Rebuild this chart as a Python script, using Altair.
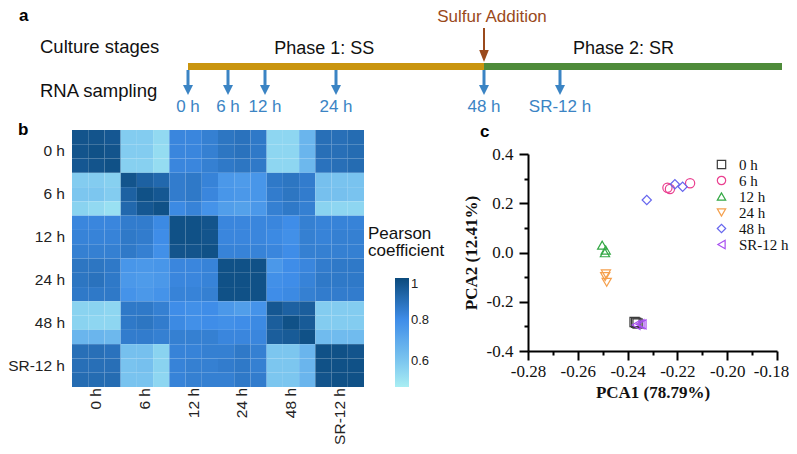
import altair as alt
import pandas as pd

# ---------------- data ----------------
groups = ["0 h", "6 h", "12 h", "24 h", "48 h", "SR-12 h"]

# panel a: timeline (hours) and its schematic placement
sample_hours = [0, 6, 12, 24, 48, 60]
timeline_hours = [0, 6, 12, 24, 48, 60, 95]
timeline_range = [180, 220, 257, 328, 476, 552, 774]
phase_names = ["Phase 1: SS", "Phase 2: SR"]
phase_start = [0, 48]
phase_end = [48, 95]
phase_label_hour = [22, 70]
phase_colors = ["#c9950f", "#4e8b3a"]
sulfur_hour = [48]

# panel b: Pearson correlation, 6 stages x 3 replicates
corr = [
    [0.97, 0.97, 0.96, 0.58, 0.58, 0.54, 0.82, 0.82, 0.84, 0.87, 0.88, 0.86, 0.55, 0.55, 0.66, 0.89, 0.89, 0.90],
    [0.97, 0.98, 0.97, 0.58, 0.58, 0.53, 0.82, 0.82, 0.84, 0.87, 0.88, 0.86, 0.55, 0.55, 0.66, 0.89, 0.89, 0.90],
    [0.96, 0.97, 0.98, 0.57, 0.57, 0.53, 0.82, 0.82, 0.84, 0.86, 0.87, 0.86, 0.55, 0.55, 0.65, 0.88, 0.89, 0.90],
    [0.58, 0.58, 0.57, 0.97, 0.93, 0.91, 0.85, 0.86, 0.83, 0.76, 0.75, 0.77, 0.86, 0.87, 0.85, 0.62, 0.61, 0.61],
    [0.60, 0.60, 0.58, 0.93, 0.98, 0.96, 0.85, 0.86, 0.82, 0.77, 0.76, 0.77, 0.85, 0.87, 0.85, 0.62, 0.62, 0.61],
    [0.56, 0.54, 0.52, 0.91, 0.96, 0.98, 0.81, 0.83, 0.78, 0.74, 0.73, 0.76, 0.84, 0.86, 0.84, 0.56, 0.55, 0.55],
    [0.82, 0.82, 0.82, 0.85, 0.85, 0.81, 0.98, 0.98, 0.97, 0.82, 0.82, 0.82, 0.82, 0.80, 0.84, 0.83, 0.83, 0.83],
    [0.83, 0.83, 0.83, 0.86, 0.85, 0.80, 0.98, 0.98, 0.97, 0.82, 0.82, 0.82, 0.81, 0.79, 0.84, 0.83, 0.84, 0.84],
    [0.84, 0.84, 0.84, 0.86, 0.84, 0.79, 0.97, 0.97, 0.98, 0.83, 0.83, 0.83, 0.82, 0.80, 0.84, 0.84, 0.84, 0.84],
    [0.87, 0.87, 0.86, 0.77, 0.76, 0.77, 0.82, 0.82, 0.83, 0.98, 0.98, 0.98, 0.76, 0.80, 0.82, 0.85, 0.86, 0.86],
    [0.87, 0.88, 0.86, 0.76, 0.75, 0.76, 0.82, 0.82, 0.83, 0.98, 0.98, 0.98, 0.79, 0.80, 0.83, 0.86, 0.86, 0.86],
    [0.86, 0.86, 0.86, 0.78, 0.76, 0.78, 0.83, 0.83, 0.84, 0.98, 0.98, 0.98, 0.80, 0.81, 0.84, 0.85, 0.85, 0.85],
    [0.56, 0.56, 0.55, 0.86, 0.86, 0.84, 0.80, 0.79, 0.80, 0.76, 0.74, 0.78, 0.96, 0.93, 0.94, 0.58, 0.58, 0.58],
    [0.56, 0.55, 0.55, 0.86, 0.87, 0.85, 0.81, 0.79, 0.80, 0.79, 0.80, 0.81, 0.94, 0.98, 0.95, 0.58, 0.58, 0.58],
    [0.66, 0.66, 0.65, 0.85, 0.85, 0.84, 0.84, 0.84, 0.84, 0.82, 0.82, 0.82, 0.94, 0.95, 0.98, 0.64, 0.64, 0.64],
    [0.89, 0.89, 0.88, 0.62, 0.62, 0.56, 0.83, 0.83, 0.84, 0.84, 0.86, 0.84, 0.60, 0.60, 0.66, 0.98, 0.98, 0.97],
    [0.89, 0.89, 0.89, 0.61, 0.62, 0.56, 0.83, 0.84, 0.84, 0.85, 0.86, 0.84, 0.60, 0.60, 0.66, 0.98, 0.98, 0.98],
    [0.90, 0.90, 0.90, 0.61, 0.61, 0.55, 0.83, 0.84, 0.84, 0.84, 0.86, 0.85, 0.60, 0.60, 0.66, 0.97, 0.98, 0.98],
]
corr_domain = [0.475, 0.6, 0.8, 1.0]
corr_colors = ["#a9eef3", "#7cc6ef", "#3f8de8", "#0b4a7c"]
legend_values = [0.6, 0.8, 1.0]

# panel c: PCA scores
pca_group = ["0 h"] * 3 + ["6 h"] * 3 + ["12 h"] * 3 + ["24 h"] * 3 + ["48 h"] * 3 + ["SR-12 h"] * 3
pca1 = [-0.2372, -0.2366, -0.2360,
        -0.2240, -0.2230, -0.2149,
        -0.2502, -0.2491, -0.2488,
        -0.2487, -0.2484, -0.2490,
        -0.2323, -0.2210, -0.2179,
        -0.2366, -0.2350, -0.2342]
pca2 = [-0.282, -0.285, -0.288,
        0.263, 0.258, 0.281,
        0.030, -0.001, 0.010,
        -0.087, -0.121, -0.098,
        0.213, 0.277, 0.267,
        -0.294, -0.291, -0.292]
pca_colors = ["#3c3c3c", "#ea3f8f", "#33a845", "#f5a04d", "#6666ee", "#a84ff0"]
pca_shapes = ["square", "circle", "triangle-up", "triangle-down", "diamond", "triangle-left"]

SANS = "Liberation Sans"
SERIF = "Liberation Serif"
BLUE = "#3b84c4"
BROWN = "#9a4a1c"

# ---------------- tables ----------------
phase_df = pd.DataFrame({"name": phase_names, "start": phase_start, "end": phase_end,
                         "lab": phase_label_hour, "color": phase_colors})
sample_df = pd.DataFrame({"label": groups, "hour": sample_hours})
sulfur_df = pd.DataFrame({"hour": sulfur_hour, "t": ["Sulfur Addition"]})

n = len(corr)
cells = []
for i in range(n):
    for j in range(n):
        cells.append({"r0": i, "r1": i + 1, "c0": j, "c1": j + 1, "v": corr[i][j]})
heat_df = pd.DataFrame(cells)
glab_df = pd.DataFrame({"g": groups, "pos": [3 * k + 1.5 for k in range(len(groups))]})

pca_df = pd.DataFrame({"group": pca_group, "pc1": pca1, "pc2": pca2})


def xa():
    return alt.Scale(domain=timeline_hours, range=timeline_range, nice=False, zero=False)


def hx():
    return alt.Scale(domain=[0, n], range=[64, 356], nice=False, zero=False)


def hy():
    return alt.Scale(domain=[0, n], range=[122, 379], nice=False, zero=False)


def one(text):
    return alt.Chart(pd.DataFrame({"t": [text]}))


# ---------------- panel a ----------------
bars = alt.Chart(phase_df).mark_rule(strokeWidth=7, strokeCap="butt").encode(
    x=alt.X("start:Q", scale=xa(), axis=None), x2="end:Q",
    y=alt.value(58.5), color=alt.Color("color:N", scale=None, legend=None))
phase_txt = alt.Chart(phase_df).mark_text(font=SANS, fontSize=18, align="center",
                                          baseline="alphabetic", color="#111").encode(
    x=alt.X("lab:Q", scale=xa(), axis=None), y=alt.value(46), text="name:N")
stage_txt = one("Culture stages").mark_text(font=SANS, fontSize=18.5, align="left",
                                            baseline="alphabetic", color="#111").encode(
    x=alt.value(32), y=alt.value(45), text="t:N")
rna_txt = one("RNA sampling").mark_text(font=SANS, fontSize=18.5, align="left",
                                        baseline="alphabetic", color="#111").encode(
    x=alt.value(32), y=alt.value(89), text="t:N")
a_txt = one("a").mark_text(font=SANS, fontSize=17, fontWeight="bold", align="left",
                           baseline="alphabetic", color="#000").encode(
    x=alt.value(11), y=alt.value(13), text="t:N")
sulfur_txt = alt.Chart(sulfur_df).mark_text(font=SANS, fontSize=17, align="center",
                                            baseline="alphabetic", color=BROWN).encode(
    x=alt.X("hour:Q", scale=xa(), axis=None), y=alt.value(14), text="t:N", xOffset=alt.value(8))
sulfur_rule = alt.Chart(sulfur_df).mark_rule(strokeWidth=2, color=BROWN).encode(
    x=alt.X("hour:Q", scale=xa(), axis=None), y=alt.value(20), y2=alt.value(45))
sulfur_head = alt.Chart(sulfur_df).mark_point(shape="M-0.8,-1L0.8,-1L0,1Z", filled=True,
                                              size=144, color=BROWN, opacity=1).encode(
    x=alt.X("hour:Q", scale=xa(), axis=None), y=alt.value(48))
samp_rule = alt.Chart(sample_df).mark_rule(strokeWidth=3, color=BLUE).encode(
    x=alt.X("hour:Q", scale=xa(), axis=None), y=alt.value(62), y2=alt.value(80))
samp_head = alt.Chart(sample_df).mark_point(shape="M-1,-1L1,-1L0,1Z", filled=True,
                                            size=100, color=BLUE, opacity=1).encode(
    x=alt.X("hour:Q", scale=xa(), axis=None), y=alt.value(82))
samp_txt = alt.Chart(sample_df).mark_text(font=SANS, fontSize=17, align="center",
                                          baseline="alphabetic", color=BLUE).encode(
    x=alt.X("hour:Q", scale=xa(), axis=None), y=alt.value(104), text="label:N")

# ---------------- panel b ----------------
heat = alt.Chart(heat_df).mark_rect().encode(
    x=alt.X("c0:Q", scale=hx(), axis=None), x2="c1:Q",
    y=alt.Y("r0:Q", scale=hy(), axis=None), y2="r1:Q",
    color=alt.Color("v:Q", scale=alt.Scale(domain=corr_domain, range=corr_colors,
                                           interpolate="rgb"),
                    legend=alt.Legend(orient="none", legendX=387, legendY=270, title=None,
                                      direction="vertical", gradientLength=109,
                                      gradientThickness=14, values=legend_values,
                                      format=".1~f", labelFont=SANS, labelFontSize=13,
                                      labelColor="#222", labelOffset=2, labelBaseline="middle",
                                      gradientStrokeWidth=0, padding=0)))
ylab = alt.Chart(glab_df).mark_text(font=SANS, fontSize=15.5, align="right",
                                    baseline="middle", color="#222").encode(
    x=alt.value(57), y=alt.Y("pos:Q", scale=hy(), axis=None), text="g:N")
xlab = alt.Chart(glab_df).mark_text(font=SANS, fontSize=15.5, align="right", angle=270,
                                    baseline="middle", color="#222").encode(
    x=alt.X("pos:Q", scale=hx(), axis=None), y=alt.value(380), text="g:N")
b_txt = one("b").mark_text(font=SANS, fontSize=17, fontWeight="bold", align="left",
                           baseline="alphabetic", color="#000").encode(
    x=alt.value(10), y=alt.value(127), text="t:N")
pear_txt = one("Pearson\ncoefficient").mark_text(font=SANS, fontSize=17, align="left",
                                                 baseline="alphabetic", lineBreak="\n",
                                                 lineHeight=17, color="#111").encode(
    x=alt.value(360), y=alt.value(231), text="t:N")

# ---------------- panel c ----------------
x_ticks = [-0.28, -0.27, -0.26, -0.25, -0.24, -0.23, -0.22, -0.21, -0.20, -0.19, -0.18]
y_ticks = [-0.4, -0.3, -0.2, -0.1, 0.0, 0.1, 0.2, 0.3, 0.4]
leg = dict(orient="none", legendX=706, legendY=149, title=None, padding=0,
           labelFont=SERIF, labelFontSize=15, labelColor="#111", symbolSize=70,
           symbolStrokeWidth=1.2, rowPadding=0, labelOffset=10)
scatter = alt.Chart(pca_df).mark_point(filled=False, size=85, strokeWidth=1.2, opacity=1).encode(
    x=alt.X("pc1:Q", title="PCA1 (78.79%)",
            scale=alt.Scale(domain=[-0.28, -0.18], range=[520, 769], nice=False, zero=False),
            axis=alt.Axis(orient="bottom", offset=-95, values=x_ticks, grid=False,
                          labelExpr="abs(round(datum.value*100))%2==0 ? (datum.value<0?'-':'') + format(abs(datum.value), '.2f') : ''",
                          tickSize={"condition": {"test": "abs(round(datum.value*100))%2==0", "value": 9}, "value": 4},
                          labelOffset={"condition": {"test": "datum.value > -0.185", "value": -6}, "value": 0},
                          tickWidth=2, tickColor="#000", domainColor="#000", domainWidth=2,
                          labelFont=SERIF, labelFontSize=17, labelColor="#111", labelPadding=3,
                          titleFont=SERIF, titleFontSize=17, titleFontWeight="bold",
                          titleColor="#111", titlePadding=5, labelFlush=False,
                          labelOverlap=False)),
    y=alt.Y("pc2:Q", title="PCA2 (12.41%)",
            scale=alt.Scale(domain=[-0.4, 0.4], range=[343, 146], nice=False, zero=False),
            axis=alt.Axis(orient="left", offset=-520, values=y_ticks, grid=False,
                          labelExpr="abs(round(datum.value*10))%2==0 ? (datum.value<0?'-':'') + format(abs(datum.value), '.1f') : ''",
                          tickSize={"condition": {"test": "abs(round(datum.value*10))%2==0", "value": 9}, "value": 4},
                          tickWidth=2, tickColor="#000", domainColor="#000", domainWidth=2,
                          labelFont=SERIF, labelFontSize=17, labelColor="#111", labelPadding=6,
                          titleFont=SERIF, titleFontSize=17, titleFontWeight="bold",
                          titleColor="#111", titlePadding=6, labelFlush=False,
                          labelOverlap=False)),
    color=alt.Color("group:N", scale=alt.Scale(domain=groups, range=pca_colors),
                    legend=alt.Legend(**leg)),
    shape=alt.Shape("group:N", scale=alt.Scale(domain=groups, range=pca_shapes),
                    legend=alt.Legend(**leg)),
)
c_txt = one("c").mark_text(font=SANS, fontSize=17, fontWeight="bold", align="left",
                           baseline="alphabetic", color="#000").encode(
    x=alt.value(472), y=alt.value(129), text="t:N")

chart = alt.layer(
    bars, phase_txt, stage_txt, rna_txt, a_txt, sulfur_txt, sulfur_rule, sulfur_head,
    samp_rule, samp_head, samp_txt,
    heat, ylab, xlab, b_txt, pear_txt,
    scatter, c_txt,
).resolve_scale(
    x="independent", y="independent", color="independent", shape="independent"
).properties(
    width=781, height=438, padding=0, autosize=alt.AutoSizeParams(type="none")
).configure_view(stroke=None)

chart.save("out.html", embed_options={"renderer": "svg", "actions": False})
